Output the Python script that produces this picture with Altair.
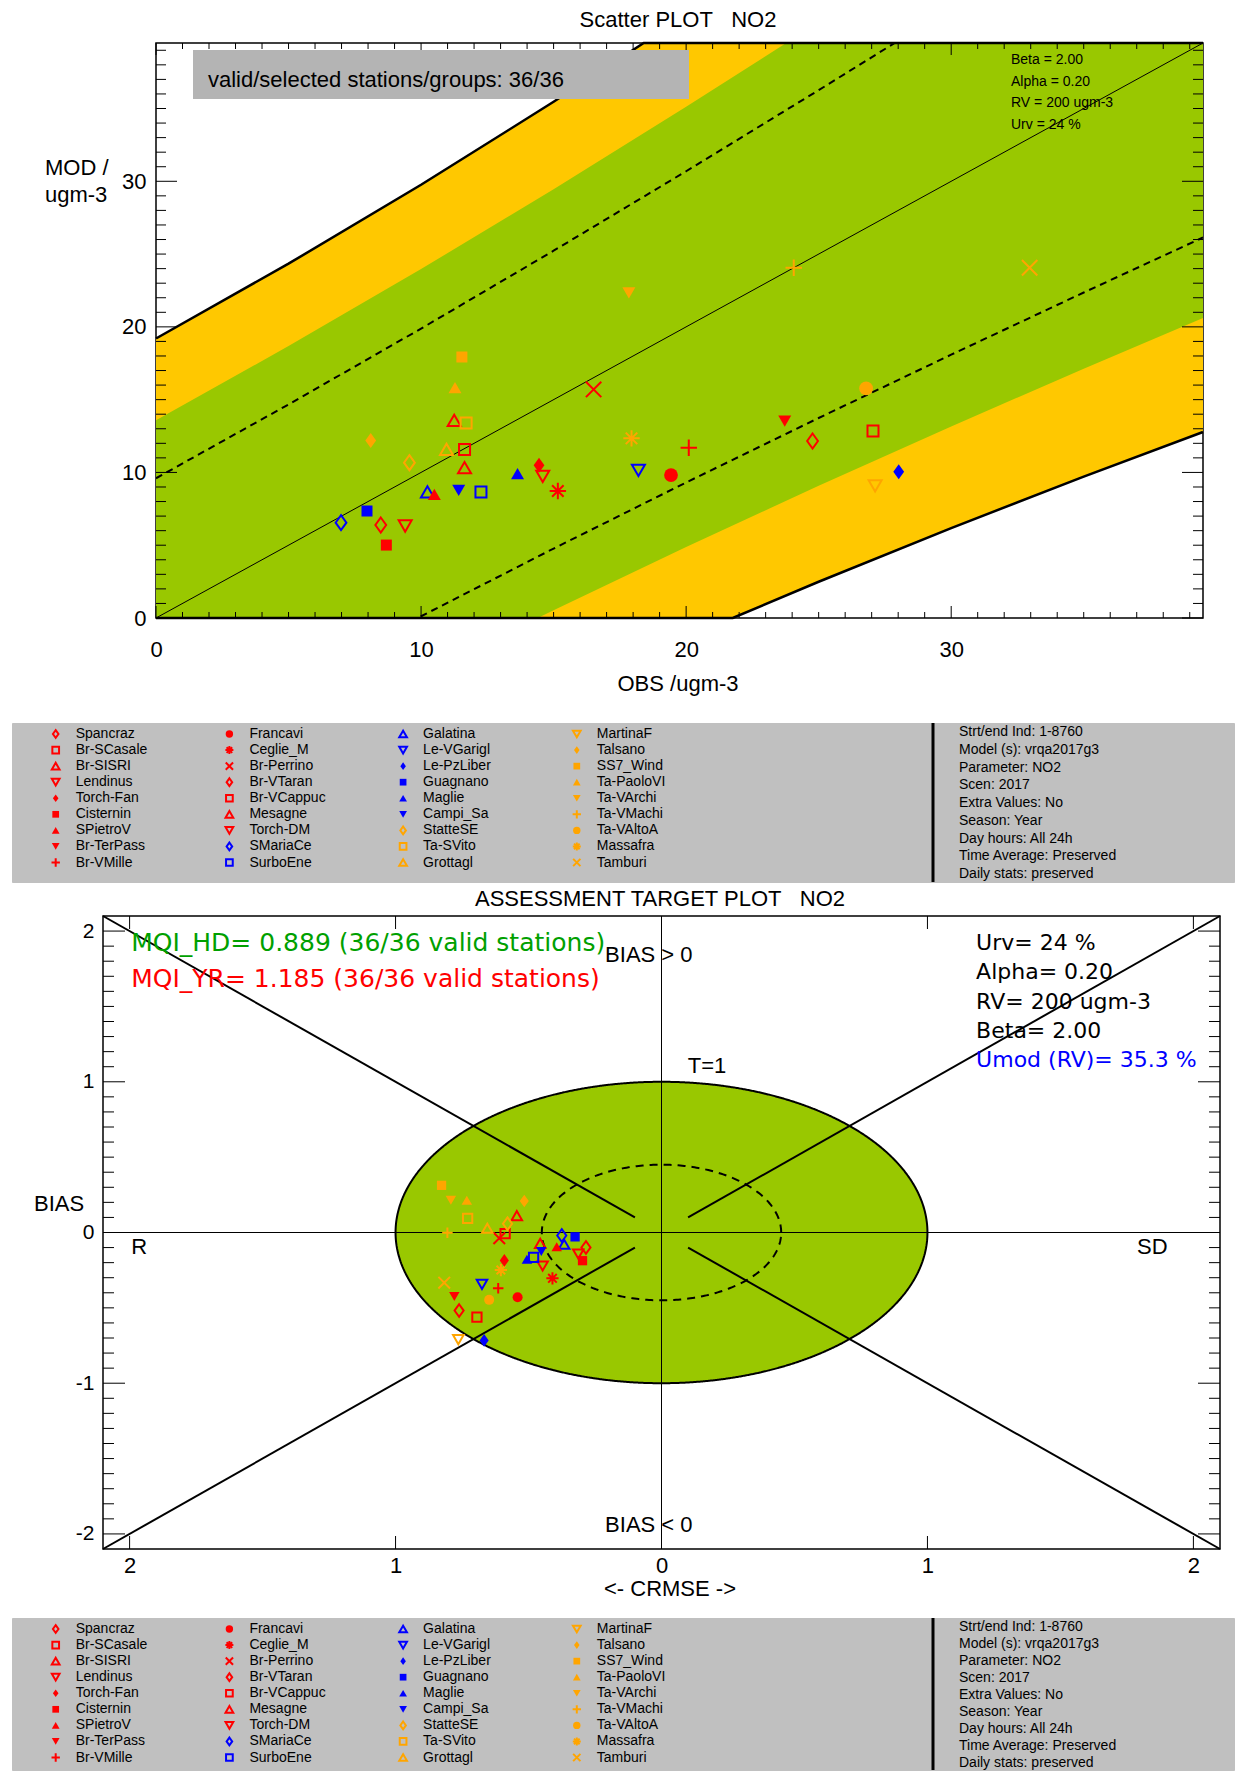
import altair as alt
import numpy as np
import pandas as pd

# ---------------------------------------------------------------- data
STATIONS = ["Spancraz", "Br-SCasale", "Br-SISRI", "Lendinus", "Torch-Fan", "Cisternin",
            "SPietroV", "Br-TerPass", "Br-VMille", "Francavi", "Ceglie_M", "Br-Perrino",
            "Br-VTaran", "Br-VCappuc", "Mesagne", "Torch-DM", "SMariaCe", "SurboEne",
            "Galatina", "Le-VGarigl", "Le-PzLiber", "Guagnano", "Maglie", "Campi_Sa",
            "StatteSE", "Ta-SVito", "Grottagl", "MartinaF", "Talsano", "SS7_Wind",
            "Ta-PaoloVI", "Ta-VArchi", "Ta-VMachi", "Ta-VAltoA", "Massafra", "Tamburi"]
GROUP = ["red"] * 16 + ["blue"] * 8 + ["orange"] * 12
SYMBOL = ["diamond", "square", "tri_up", "tri_down", "diamond_f", "square_f", "tri_up_f", "tri_down_f",
          "plus", "circle_f", "asterisk", "cross",
          "diamond", "square", "tri_up", "tri_down",
          "diamond", "square", "tri_up", "tri_down", "diamond_f", "square_f", "tri_up_f", "tri_down_f",
          "diamond", "square", "tri_up", "tri_down", "diamond_f", "square_f", "tri_up_f", "tri_down_f",
          "plus", "circle_f", "asterisk", "cross"]

OBS = [8.48, 11.64, 11.25, 9.4, 14.45, 8.69, 10.5, 23.72, 20.1, 19.43, 15.16, 16.51,
       24.77, 27.05, 11.64, 14.59, 6.98, 12.26, 10.24, 18.2, 28.02, 7.96, 13.64, 11.42,
       9.56, 11.7, 10.96, 27.13, 8.1, 11.54, 11.28, 17.84, 24.06, 26.79, 17.94, 32.96]
MOD = [6.39, 11.58, 13.58, 6.32, 10.5, 5.01, 8.5, 13.53, 11.7, 9.82, 8.72, 15.7,
       12.16, 12.84, 10.33, 9.73, 6.55, 8.65, 8.67, 10.14, 10.05, 7.35, 9.91, 8.77,
       10.67, 13.4, 11.58, 9.07, 12.2, 17.93, 15.82, 22.34, 24.06, 15.77, 12.34, 24.06]

CRMSE = [-0.284, -0.588, -0.544, -0.313, -0.591, -0.297, -0.394, -0.779, -0.614, -0.541, -0.41, -0.61,
         -0.761, -0.694, -0.456, -0.447, -0.375, -0.481, -0.366, -0.675, -0.667, -0.325, -0.506, -0.452,
         -0.579, -0.729, -0.655, -0.764, -0.516, -0.827, -0.732, -0.792, -0.805, -0.648, -0.604, -0.817]
BIAS = [-0.099, -0.007, 0.112, -0.143, -0.185, -0.187, -0.095, -0.425, -0.37, -0.43, -0.304, -0.038,
        -0.518, -0.562, -0.072, -0.222, -0.02, -0.165, -0.078, -0.344, -0.716, -0.029, -0.178, -0.126,
        0.058, 0.093, 0.028, -0.711, 0.209, 0.313, 0.214, 0.214, -0.002, -0.447, -0.249, -0.333]

# acceptance bands of the scatter plot, read along OBS
BAND_OBS = [0, 5, 10, 15, 20, 25, 30, 35, 39.5]
YELLOW_LO = [-19.2, -14.34, -9.76, -5.46, -1.38, 2.49, 6.18, 9.71, 12.78]
YELLOW_HI = [19.2, 24.34, 29.76, 35.46, 41.38, 47.51, 53.82, 60.29, 66.22]
GREEN_LO = [-13.58, -8.68, -3.97, 0.54, 4.88, 9.08, 13.16, 17.12, 20.61]
GREEN_HI = [13.58, 18.68, 23.97, 29.46, 35.12, 40.92, 46.84, 52.88, 58.39]
DASH_LO = [-9.6, -4.67, 0.12, 4.77, 9.31, 13.74, 18.09, 22.36, 26.14]
DASH_HI = [9.6, 14.67, 19.88, 25.23, 30.69, 36.26, 41.91, 47.65, 52.86]
OUTER_UP_OBS = [0, 5, 10, 15, 18.4, 39.5]
OUTER_UP_MOD = [19.2, 24.34, 29.76, 35.46, 39.5, 39.5]
OUTER_LO_OBS = [0, 21.76, 25, 30, 35, 39.5]
OUTER_LO_MOD = [0, 0, 2.49, 6.18, 9.71, 12.78]
ONE_TO_ONE = [0, 39.5]
SCATTER_MAX = 39.5

# target plot geometry
TARGET_MAX = 2.1
T_RADII = [1.0, 0.45]
DIAG_X1 = [-2.1, 0.1, -2.1, 0.1]
DIAG_Y1 = [-2.1, 0.1, 2.1, -0.1]
DIAG_X2 = [-0.1, 2.1, -0.1, 2.1]
DIAG_Y2 = [-0.1, 2.1, 0.1, -2.1]

SCATTER_TICKS = [0, 10, 20, 30]
SCATTER_MINOR = [v for v in range(1, 40) if v % 10]
TARGET_TICKS = [-2, -1, 0, 1, 2]
TARGET_MINOR = [round(-2.0 + 0.1 * k, 1) for k in range(41) if k % 10]

INFO_LINES = ["Strt/end Ind: 1-8760", "Model (s): vrqa2017g3", "Parameter: NO2", "Scen: 2017",
              "Extra Values: No", "Season: Year", "Day hours: All 24h", "Time Average: Preserved",
              "Daily stats: preserved"]
SCATTER_PARAMS = ["Beta = 2.00", "Alpha = 0.20", "RV = 200 ugm-3", "Urv = 24 %"]
TARGET_PARAMS = ["Urv= 24 %", "Alpha= 0.20", "RV= 200 ugm-3", "Beta= 2.00"]
NB = "\u00a0"

# ---------------------------------------------------------------- styles
FONT = "Liberation Sans"
HFONT = "DejaVu Sans"
GREEN = "#99C800"
YELLOW = "#FFC800"
COLOR_OF = {"red": "#FF0000", "blue": "#0000FF", "orange": "#FFA500"}
DIAMOND = "M0,-1L0.72,0L0,1L-0.72,0Z"
SHAPE_OF = {
    "diamond": (DIAMOND, False), "diamond_f": (DIAMOND, True),
    "square": ("square", False), "square_f": ("square", True),
    "tri_up": ("triangle-up", False), "tri_up_f": ("triangle-up", True),
    "tri_down": ("triangle-down", False), "tri_down_f": ("triangle-down", True),
    "circle_f": ("circle", True),
    "plus": ("M-1,0L1,0M0,-1L0,1", False),
    "asterisk": ("M-1,0L1,0M0,-1L0,1M-0.7,-0.7L0.7,0.7M-0.7,0.7L0.7,-0.7", False),
    "cross": ("M-0.75,-0.75L0.75,0.75M-0.75,0.75L0.75,-0.75", False),
}
SIZE_SCATTER = {"diamond": 225, "square": 121, "tri_up": 169, "tri_down": 169, "circle": 190,
                "plus": 270, "asterisk": 270, "cross": 420}
SIZE_TARGET = {"diamond": 160, "square": 86, "tri_up": 110, "tri_down": 110, "circle": 100,
               "plus": 110, "asterisk": 150, "cross": 240}
SIZE_LEGEND = {"diamond": 60, "square": 45, "tri_up": 60, "tri_down": 60, "circle": 55,
               "plus": 70, "asterisk": 64, "cross": 95}


def station_points(xv, yv, xs, ys, xax, yax, sizes, sw):
    df = pd.DataFrame({"name": STATIONS, "x": xv, "y": yv})
    df["path"] = [SHAPE_OF[s][0] for s in SYMBOL]
    df["filled"] = [SHAPE_OF[s][1] for s in SYMBOL]
    df["color"] = [COLOR_OF[g] for g in GROUP]
    df["size"] = [sizes[s.replace("_f", "")] for s in SYMBOL]
    enc = dict(x=alt.X("x:Q", scale=xs, axis=xax), y=alt.Y("y:Q", scale=ys, axis=yax),
               shape=alt.Shape("path:N", scale=None), color=alt.Color("color:N", scale=None),
               size=alt.Size("size:Q", scale=None))
    op = alt.Chart(df[~df["filled"]]).mark_point(filled=False, opacity=1, strokeWidth=sw).encode(**enc)
    fi = alt.Chart(df[df["filled"]]).mark_point(filled=True, opacity=1).encode(**enc)
    return [op, fi]


def tick_layer(vals, side, length, xs, ys, xax, yax, w, h):
    m = alt.Chart(pd.DataFrame({"v": vals})).mark_rule(color="black", strokeWidth=1)
    if side == "left":
        return m.encode(y=alt.Y("v:Q", scale=ys, axis=yax), x=alt.value(0), x2=alt.value(length))
    if side == "right":
        return m.encode(y=alt.Y("v:Q", scale=ys, axis=yax), x=alt.value(w - length), x2=alt.value(w))
    if side == "bottom":
        return m.encode(x=alt.X("v:Q", scale=xs, axis=xax), y=alt.value(h - length), y2=alt.value(h))
    return m.encode(x=alt.X("v:Q", scale=xs, axis=xax), y=alt.value(0), y2=alt.value(length))


def ptext(s, x, y, size, align="left", color="black", font=FONT, baseline="middle"):
    return alt.Chart(pd.DataFrame({"t": [s]})).mark_text(
        align=align, baseline=baseline, fontSize=size, font=font, color=color
    ).encode(text="t:N", x=alt.value(x), y=alt.value(y))


def dtext(s, x, y, xs, ys, xax, yax, size, color="black", font=FONT, align="left"):
    return alt.Chart(pd.DataFrame({"t": [s], "x": [x], "y": [y]})).mark_text(
        align=align, baseline="middle", fontSize=size, font=font, color=color
    ).encode(text="t:N", x=alt.X("x:Q", scale=xs, axis=xax), y=alt.Y("y:Q", scale=ys, axis=yax))


def bounds(x1, y1, x2, y2):
    return alt.Chart(pd.DataFrame({"a": [0]})).mark_rule(opacity=0, strokeWidth=0).encode(
        x=alt.value(x1), x2=alt.value(x2), y=alt.value(y1), y2=alt.value(y2))


# ---------------------------------------------------------------- scatter panel
W1, H1 = 1047, 575
SX1 = alt.Scale(domain=[0, SCATTER_MAX], nice=False, zero=False)
SY1 = alt.Scale(domain=[0, SCATTER_MAX], nice=False, zero=False)
AX1X = alt.Axis(values=SCATTER_TICKS, ticks=False, domain=False, grid=False, title=None,
                labelFont=FONT, labelFontSize=22, labelColor="black", labelPadding=21,
                labelOverlap=False, labelFlush=False)
AX1Y = alt.Axis(values=SCATTER_TICKS, ticks=False, domain=False, grid=False, title=None,
                labelFont=FONT, labelFontSize=22, labelColor="black", labelPadding=10,
                labelOverlap=False, labelFlush=False)

band = pd.DataFrame({"O": BAND_OBS, "ylo": YELLOW_LO, "yhi": YELLOW_HI, "glo": GREEN_LO,
                     "ghi": GREEN_HI, "dlo": DASH_LO, "dhi": DASH_HI})
bx = alt.X("O:Q", scale=SX1, axis=AX1X)

L1 = []
L1.append(alt.Chart(band).mark_area(color=YELLOW, opacity=1, clip=True).encode(
    x=bx, y=alt.Y("ylo:Q", scale=SY1, axis=AX1Y), y2=alt.Y2("yhi:Q")))
L1.append(alt.Chart(band).mark_area(color=GREEN, opacity=1, clip=True).encode(
    x=bx, y=alt.Y("glo:Q", scale=SY1, axis=AX1Y), y2=alt.Y2("ghi:Q")))
for col in ["dlo", "dhi"]:
    L1.append(alt.Chart(band).mark_line(color="black", strokeWidth=2, strokeDash=[7, 5], clip=True).encode(
        x=bx, y=alt.Y(f"{col}:Q", scale=SY1, axis=AX1Y)))
L1.append(alt.Chart(pd.DataFrame({"O": ONE_TO_ONE, "M": ONE_TO_ONE})).mark_line(
    color="black", strokeWidth=1).encode(x=bx, y=alt.Y("M:Q", scale=SY1, axis=AX1Y)))
for ox, oy in [(OUTER_UP_OBS, OUTER_UP_MOD), (OUTER_LO_OBS, OUTER_LO_MOD)]:
    L1.append(alt.Chart(pd.DataFrame({"O": ox, "M": oy})).mark_line(color="black", strokeWidth=2.5).encode(
        x=bx, y=alt.Y("M:Q", scale=SY1, axis=AX1Y)))
for side, ln_major, ln_minor in [("left", 21, 10), ("right", 21, 10), ("bottom", 12, 6), ("top", 12, 6)]:
    L1.append(tick_layer(SCATTER_TICKS, side, ln_major, SX1, SY1, AX1X, AX1Y, W1, H1))
    L1.append(tick_layer(SCATTER_MINOR, side, ln_minor, SX1, SY1, AX1X, AX1Y, W1, H1))
L1.append(alt.Chart(pd.DataFrame({"a": [0]})).mark_rect(color="#B4B4B4").encode(
    x=alt.value(37), x2=alt.value(533), y=alt.value(7), y2=alt.value(56)))
L1.append(ptext("valid/selected stations/groups: 36/36", 52, 37, 22))
for i, s in enumerate(SCATTER_PARAMS):
    L1.append(ptext(s, 855, 17 + 21.7 * i, 14))
L1 += station_points(OBS, MOD, SX1, SY1, AX1X, AX1Y, SIZE_SCATTER, 2)
L1.append(ptext(f"Scatter PLOT{NB*3}NO2", 522, -23, 22, align="center"))
L1.append(ptext("MOD /", -111, 132, 22, baseline="alphabetic"))
L1.append(ptext("ugm-3", -111, 159, 22, baseline="alphabetic"))
L1.append(ptext("OBS /ugm-3", 522, 648, 22, align="center", baseline="alphabetic"))
L1.append(bounds(-144, -34, 1078, 674))

p1 = alt.layer(*L1).properties(width=W1, height=H1,
                               view=alt.ViewBackground(fill="white", stroke="black", strokeWidth=1.5))


# ---------------------------------------------------------------- legend panels
LEG_W = 1222


def legend_panel(height, info_range, top, bottom):
    sx = alt.Scale(domain=[0, 3], range=[43.7, 564.8], nice=False, zero=False)
    sy = alt.Scale(domain=[0, 8], range=[11, 139.5], nice=False, zero=False)
    cols = [i // 9 for i in range(len(STATIONS))]
    rows = [i % 9 for i in range(len(STATIONS))]
    layers = station_points(cols, rows, sx, sy, None, None, SIZE_LEGEND, 2)
    ldf = pd.DataFrame({"name": STATIONS, "x": cols, "y": rows})
    layers.append(alt.Chart(ldf).mark_text(align="left", baseline="middle", dx=20, fontSize=14,
                                           font=FONT, color="black").encode(
        x=alt.X("x:Q", scale=sx, axis=None), y=alt.Y("y:Q", scale=sy, axis=None), text="name:N"))
    idf = pd.DataFrame({"line": INFO_LINES, "irow": list(range(len(INFO_LINES)))})
    layers.append(alt.Chart(idf).mark_text(align="left", baseline="middle", fontSize=14,
                                           font=FONT, color="black").encode(
        x=alt.value(947),
        y=alt.Y("irow:Q", scale=alt.Scale(domain=[0, 8], range=info_range, nice=False, zero=False), axis=None),
        text="line:N"))
    layers.append(alt.Chart(pd.DataFrame({"a": [0]})).mark_rule(color="black", strokeWidth=3).encode(
        x=alt.value(921), y=alt.value(0), y2=alt.value(height)))
    layers.append(bounds(0, top, LEG_W, bottom))
    return alt.layer(*layers).resolve_scale(x="independent", y="independent").properties(
        width=LEG_W, height=height, view=alt.ViewBackground(fill="#C0C0C0", stroke="#C0C0C0"))


p2 = legend_panel(159, [9.3, 151], -4, 161)
p4 = legend_panel(152, [9, 145], -3, 152)

# ---------------------------------------------------------------- target panel
W3, H3 = 1117, 633
SX3 = alt.Scale(domain=[-TARGET_MAX, TARGET_MAX], nice=False, zero=False)
SY3 = alt.Scale(domain=[-TARGET_MAX, TARGET_MAX], nice=False, zero=False)
AX3X = alt.Axis(values=TARGET_TICKS, ticks=False, domain=False, grid=False, title=None,
                labelFont=FONT, labelFontSize=22, labelColor="black", labelPadding=6,
                labelOverlap=False, labelFlush=False, labelExpr="'' + abs(datum.value)")
AX3Y = alt.Axis(values=TARGET_TICKS, ticks=False, domain=False, grid=False, title=None,
                labelFont=FONT, labelFontSize=21, labelColor="black", labelPadding=9,
                labelOverlap=False, labelFlush=False, labelExpr="'' + datum.value")
tx = lambda f: alt.X(f, scale=SX3, axis=AX3X)
ty = lambda f: alt.Y(f, scale=SY3, axis=AX3Y)

L3 = []
ang = np.linspace(0, np.pi, 181)
ell = pd.DataFrame({"x": T_RADII[0] * np.cos(ang), "lo": -T_RADII[0] * np.sin(ang),
                    "hi": T_RADII[0] * np.sin(ang)})
L3.append(alt.Chart(ell).mark_area(color=GREEN, opacity=1).encode(
    x=tx("x:Q"), y=ty("lo:Q"), y2=alt.Y2("hi:Q")))
ang2 = np.linspace(0, 2 * np.pi, 361)
for r, dash in [(T_RADII[1], [8, 6]), (T_RADII[0], [1, 0])]:
    circ = pd.DataFrame({"x": r * np.cos(ang2), "y": r * np.sin(ang2), "i": np.arange(len(ang2))})
    L3.append(alt.Chart(circ).mark_line(color="black", strokeWidth=2, strokeDash=dash).encode(
        x=tx("x:Q"), y=ty("y:Q"), order="i:Q"))
zero = pd.DataFrame({"z": [0]})
L3.append(alt.Chart(zero).mark_rule(color="black", strokeWidth=1).encode(x=tx("z:Q")))
L3.append(alt.Chart(zero).mark_rule(color="black", strokeWidth=1).encode(y=ty("z:Q")))
diag = pd.DataFrame({"x": DIAG_X1, "y": DIAG_Y1, "x2": DIAG_X2, "y2": DIAG_Y2})
L3.append(alt.Chart(diag).mark_rule(color="black", strokeWidth=2).encode(
    x=tx("x:Q"), y=ty("y:Q"), x2=alt.X2("x2:Q"), y2=alt.Y2("y2:Q")))
for side in ["left", "right"]:
    L3.append(tick_layer(TARGET_TICKS, side, 22, SX3, SY3, AX3X, AX3Y, W3, H3))
    L3.append(tick_layer(TARGET_MINOR, side, 11, SX3, SY3, AX3X, AX3Y, W3, H3))
for side in ["top", "bottom"]:
    L3.append(tick_layer(TARGET_TICKS, side, 13, SX3, SY3, AX3X, AX3Y, W3, H3))

L3.append(dtext("BIAS > 0", -0.212, 1.839, SX3, SY3, AX3X, AX3Y, 22))
L3.append(dtext("BIAS < 0", -0.212, -1.938, SX3, SY3, AX3X, AX3Y, 22))
L3.append(dtext("T=1", 0.099, 1.102, SX3, SY3, AX3X, AX3Y, 22))
L3.append(dtext("R", -1.994, -0.098, SX3, SY3, AX3X, AX3Y, 22))
L3.append(dtext("SD", 1.788, -0.098, SX3, SY3, AX3X, AX3Y, 22))
L3.append(dtext("MQI_HD= 0.889 (36/36 valid stations)", -1.994, 1.92, SX3, SY3, AX3X, AX3Y, 25,
                color="#00A000", font=HFONT))
L3.append(dtext("MQI_YR= 1.185 (36/36 valid stations)", -1.994, 1.679, SX3, SY3, AX3X, AX3Y, 25,
                color="#FF0000", font=HFONT))
for i, s in enumerate(TARGET_PARAMS):
    L3.append(dtext(s, 1.183, 1.92 - 0.194 * i, SX3, SY3, AX3X, AX3Y, 22, font=HFONT))
L3.append(dtext("Umod (RV)= 35.3 %", 1.183, 1.145, SX3, SY3, AX3X, AX3Y, 22, color="#0000FF", font=HFONT))
L3 += station_points(CRMSE, BIAS, SX3, SY3, AX3X, AX3Y, SIZE_TARGET, 2)
L3.append(ptext(f"ASSESSMENT TARGET PLOT{NB*3}NO2", 557, -17.5, 22, align="center"))
L3.append(ptext("BIAS", -69, 288, 22))
L3.append(ptext("<- CRMSE ->", 567, 680, 22, align="center", baseline="alphabetic"))
L3.append(bounds(-91, -30, 1131, 697))

p3 = alt.layer(*L3).properties(width=W3, height=H3,
                               view=alt.ViewBackground(fill="white", stroke="black", strokeWidth=1.5))


# a 1px invisible cell in front of every panel: the panels' origins then follow their own left margins
def spacer():
    return alt.Chart(pd.DataFrame({"a": [0]})).mark_rule(opacity=0, strokeWidth=0).encode(
        x=alt.value(0), x2=alt.value(1), y=alt.value(0), y2=alt.value(1)).properties(
        width=1, height=1, view=alt.ViewBackground(fill="transparent", stroke="transparent"))


rows = [alt.hconcat(spacer(), p, spacing=0) for p in (p1, p2, p3, p4)]
chart = alt.vconcat(*rows, spacing=0).properties(padding=0).configure(font=FONT)
chart.save("out.html", embed_options={"renderer": "svg", "actions": False})
